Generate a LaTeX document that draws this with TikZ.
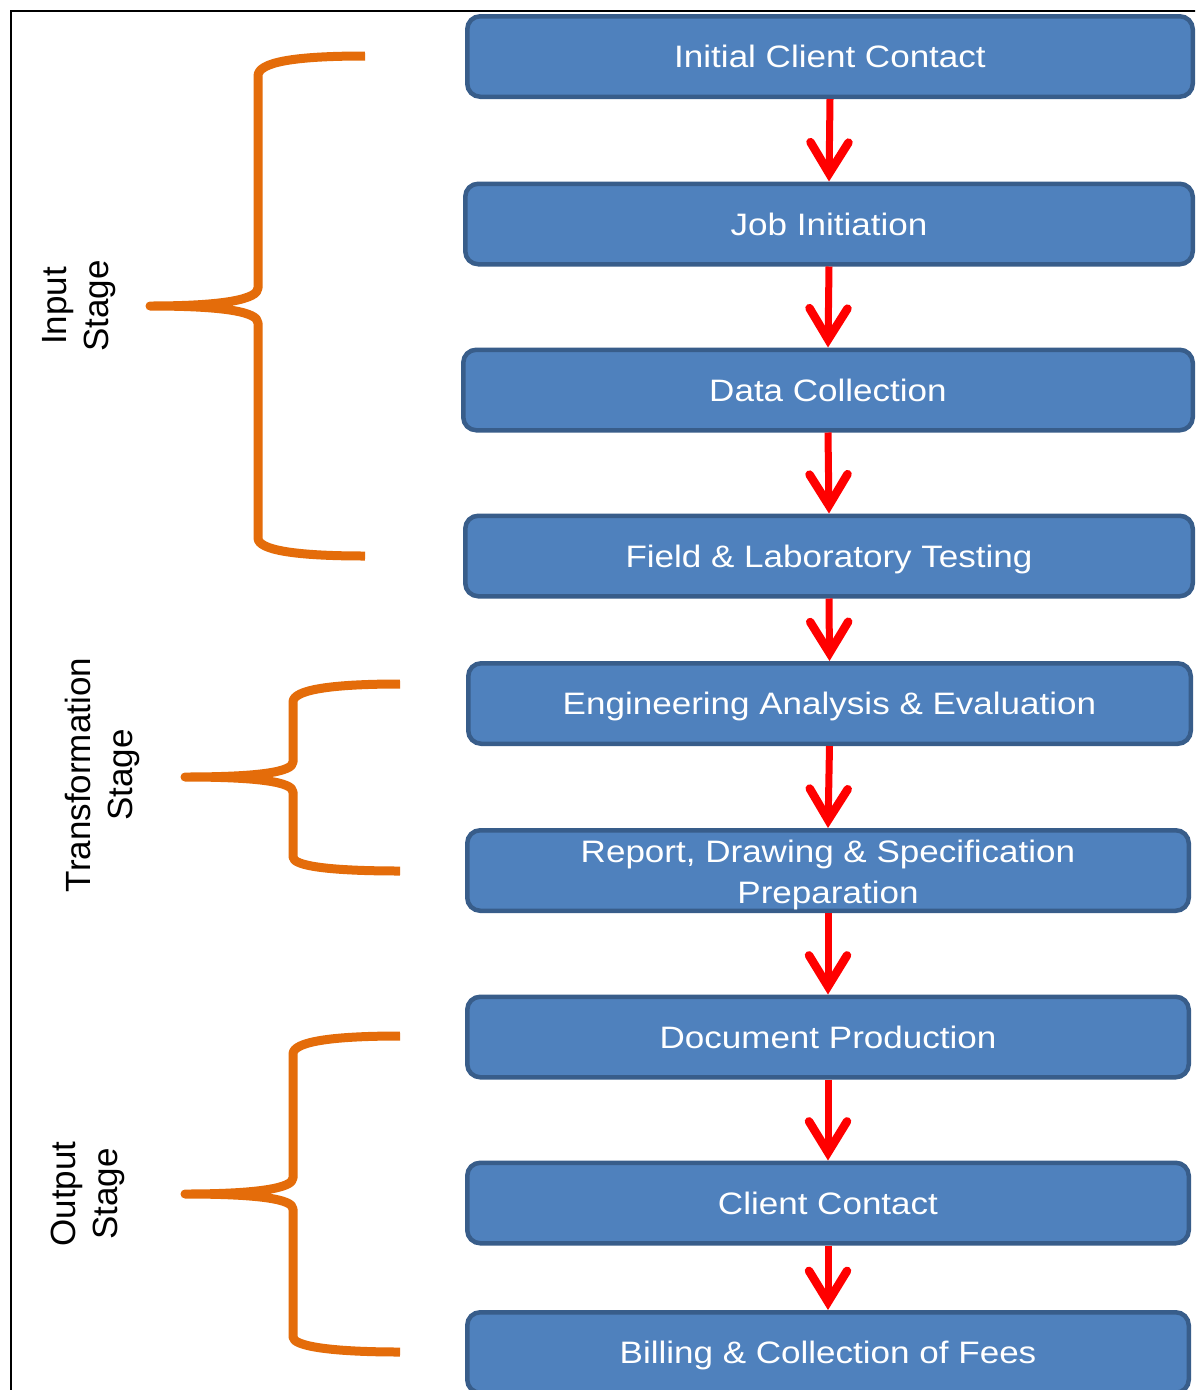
\documentclass[tikz,border=0pt]{standalone}
\usepackage{fontspec}
\setmainfont{Liberation Sans}
\newfontfamily\boxfont{Liberation Sans}[FakeStretch=1.13]
\usetikzlibrary{arrows.meta}
\definecolor{boxfill}{HTML}{4F81BD}
\definecolor{boxline}{HTML}{385D8A}
\definecolor{braceorange}{HTML}{E46C0A}

\begin{document}
\begin{tikzpicture}[x=1pt,y=-1pt,
  stepbox/.style={draw=boxline, line width=4.5pt, fill=boxfill, rounded corners=13pt,
    inner sep=0pt, text=white, font=\boxfont\fontsize{31}{41}\selectfont,
    align=center, minimum height=80.5pt},
  oneline/.style={text height=22.2pt, text depth=0pt},
  flow/.style={draw=red, line width=7pt,
    -{Straight Barb[length=31pt, width=38pt, line width=8.5pt, line cap=round, line join=miter]}},
  stagebrace/.style={draw=braceorange, line width=9pt, line cap=butt, line join=round},
  stagelabel/.style={rotate=90, align=center, inner sep=0pt,
    font=\fontsize{35}{42}\selectfont}]

\clip (0,0) rectangle (1195,1390);
\fill[white] (0,0) rectangle (1195,1390);

% frame
\draw[line width=2.6pt] (11,1400) -- (11,11) -- (1205,11);

% process steps
\node[stepbox, oneline, minimum width=725.5pt] (s1) at (830,56.5)  {Initial Client Contact};
\node[stepbox, oneline, minimum width=727.5pt] (s2) at (829,224)   {Job Initiation};
\node[stepbox, oneline, minimum width=729.5pt] (s3) at (828,390)   {Data Collection};
\node[stepbox, oneline, minimum width=727.5pt] (s4) at (829,556)   {Field \& Laboratory Testing};
\node[stepbox, oneline, minimum width=722.5pt] (s5) at (829.5,703.5) {Engineering Analysis \& Evaluation};
\node[stepbox, minimum width=721.5pt] (s6) at (828,870.5)
  {\rule{0pt}{31pt}Report, Drawing \& Specification\\Preparation};
\node[stepbox, oneline, minimum width=721.5pt] (s7) at (828,1037)  {Document Production};
\node[stepbox, oneline, minimum width=721.5pt] (s8) at (828,1203)  {Client Contact};
\node[stepbox, oneline, minimum width=721.5pt] (s9) at (828,1352.5) {Billing \& Collection of Fees};

% flow arrows
\foreach \a/\b in {s1/s2, s2/s3, s3/s4, s4/s5, s5/s6, s6/s7, s7/s8, s8/s9}
  \draw[flow] (\a.south) -- (\b.north);

% stage braces
\draw[stagebrace] (365,56) .. controls (295,56) and (258,62) .. (258,76)
  -- (258,288) .. controls (258,299) and (225,306) .. (150,306)
  .. controls (225,306) and (258,312) .. (258,323)
  -- (258,538) .. controls (258,550) and (295,556) .. (365,556);

\draw[stagebrace] (400,684) .. controls (330,684) and (293,690) .. (293,702)
  -- (293,762) .. controls (293,772) and (258,777) .. (185,777)
  .. controls (258,777) and (293,782) .. (293,792)
  -- (293,857) .. controls (293,866) and (330,871) .. (400,871);

\draw[stagebrace] (400,1036) .. controls (330,1036) and (293,1042) .. (293,1054)
  -- (293,1178) .. controls (293,1188) and (258,1194) .. (185,1194)
  .. controls (258,1194) and (293,1199) .. (293,1209)
  -- (293,1337) .. controls (293,1346) and (330,1352) .. (400,1352);

% stage labels
\node[stagelabel] (input)  at (79,306)  {Input\\Stage};
\node[stagelabel] (transf) at (102,775) {Transformation\\Stage};
\node[stagelabel] (output) at (88,1194) {Output\\Stage};
\end{tikzpicture}
\end{document}
